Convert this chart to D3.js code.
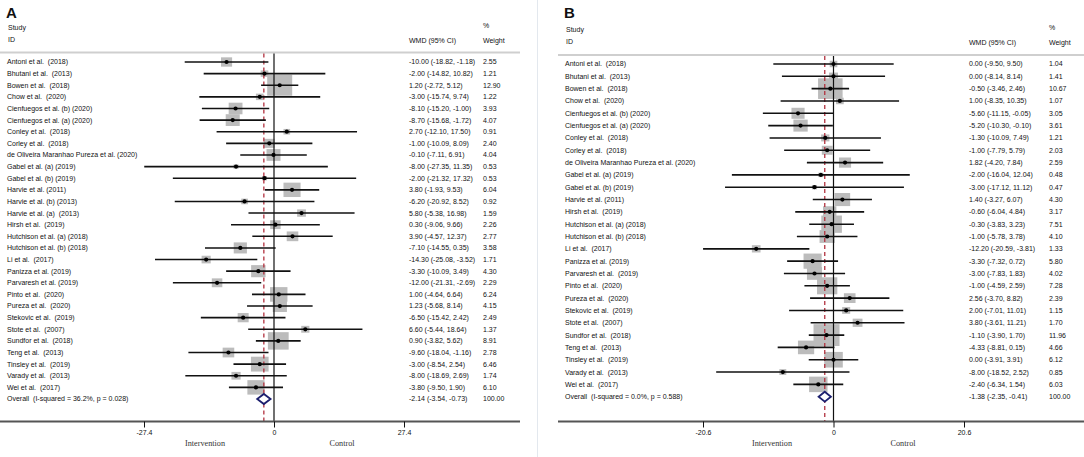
<!DOCTYPE html>
<html>
<head>
<meta charset="utf-8">
<script src="https://cdn.jsdelivr.net/npm/d3@7"></script>
<style>
  body { margin: 0; background: #fff; }
  svg { display: block; }
  text { font-family: "Liberation Sans", Arial, sans-serif; fill: #111; white-space: pre; }
  .serif { font-family: "Liberation Serif", "Times New Roman", serif; fill: #333; }
</style>
</head>
<body>
<svg id="chart" width="1084" height="457"></svg>
<script>
// ---- panel A data (WMD, 95% CI, weight %) ----
var studiesA = ["Antoni et al.  (2018)", "Bhutani et al.  (2013)", "Bowen et al.  (2018)", "Chow et al.  (2020)",
  "Cienfuegos et al. (b) (2020)", "Cienfuegos et al. (a) (2020)", "Conley et al.  (2018)", "Corley et al.  (2018)",
  "de Oliveira Maranhao Pureza et al. (2020)", "Gabel et al. (a) (2019)", "Gabel et al. (b) (2019)",
  "Harvie et al. (2011)", "Harvie et al. (b) (2013)", "Harvie et al. (a)  (2013)", "Hirsh et al.  (2019)",
  "Hutchison et al. (a) (2018)", "Hutchison et al. (b) (2018)", "Li et al.  (2017)", "Panizza et al. (2019)",
  "Parvaresh et al. (2019)", "Pinto et al.  (2020)", "Pureza et al.  (2020)", "Stekovic et al.  (2019)",
  "Stote et al.  (2007)", "Sundfor et al.  (2018)", "Teng et al.  (2013)", "Tinsley et al.  (2019)",
  "Varady et al.  (2013)", "Wei et al.  (2017)"];
var wmdA = [-10.00, -2.00, 1.20, -3.00, -8.10, -8.70, 2.70, -1.00, -0.10, -8.00, -2.00, 3.80, -6.20, 5.80, 0.30,
  3.90, -7.10, -14.30, -3.30, -12.00, 1.00, 1.23, -6.50, 6.60, 0.90, -9.60, -3.00, -8.00, -3.80];
var lowA = [-18.82, -14.82, -2.72, -15.74, -15.20, -15.68, -12.10, -10.09, -7.11, -27.35, -21.32, -1.93, -20.92,
  -5.38, -9.06, -4.57, -14.55, -25.08, -10.09, -21.31, -4.64, -5.68, -15.42, -5.44, -3.82, -18.04, -8.54, -18.69, -9.50];
var highA = [-1.18, 10.82, 5.12, 9.74, -1.00, -1.72, 17.50, 8.09, 6.91, 11.35, 17.32, 9.53, 8.52, 16.98, 9.66,
  12.37, 0.35, -3.52, 3.49, -2.69, 6.64, 8.14, 2.42, 18.64, 5.62, -1.16, 2.54, 2.69, 1.90];
var weightA = [2.55, 1.21, 12.90, 1.22, 3.93, 4.07, 0.91, 2.40, 4.04, 0.53, 0.53, 6.04, 0.92, 1.59, 2.26,
  2.77, 3.58, 1.71, 4.30, 2.29, 6.24, 4.15, 2.49, 1.37, 8.91, 2.78, 6.46, 1.74, 6.10];
var overallA = [-2.14, -3.54, -0.73];
var overallLabelA = "Overall  (I-squared = 36.2%, p = 0.028)";
var ticksA = [-27.4, 0, 27.4];

// ---- panel B data ----
var studiesB = ["Antoni et al.  (2018)", "Bhutani et al.  (2013)", "Bowen et al.  (2018)", "Chow et al.  (2020)",
  "Cienfuegos et al. (b) (2020)", "Cienfuegos et al. (a) (2020)", "Conley et al.  (2018)", "Corley et al.  (2018)",
  "de Oliveira Maranhao Pureza et al. (2020)", "Gabel et al. (a) (2019)", "Gabel et al. (b) (2019)",
  "Harvie et al. (2011)", "Hirsh et al.  (2019)", "Hutchison et al. (a) (2018)", "Hutchison et al. (b) (2018)",
  "Li et al.  (2017)", "Panizza et al. (2019)", "Parvaresh et al.  (2019)", "Pinto et al.  (2020)",
  "Pureza et al.  (2020)", "Stekovic et al.  (2019)", "Stote et al.  (2007)", "Sundfor et al.  (2018)",
  "Teng et al.  (2013)", "Tinsley et al.  (2019)", "Varady et al.  (2013)", "Wei et al.  (2017)"];
var wmdB = [0.00, 0.00, -0.50, 1.00, -5.60, -5.20, -1.30, -1.00, 1.82, -2.00, -3.00, 1.40, -0.60, -0.30, -1.00,
  -12.20, -3.30, -3.00, -1.00, 2.56, 2.00, 3.80, -1.10, -4.33, 0.00, -8.00, -2.40];
var lowB = [-9.50, -8.14, -3.46, -8.35, -11.15, -10.30, -10.09, -7.79, -4.20, -16.04, -17.12, -3.27, -6.04, -3.83,
  -5.78, -20.59, -7.32, -7.83, -4.59, -3.70, -7.01, -3.61, -3.90, -8.81, -3.91, -18.52, -6.34];
var highB = [9.50, 8.14, 2.46, 10.35, -0.05, -0.10, 7.49, 5.79, 7.84, 12.04, 11.12, 6.07, 4.84, 3.23, 3.78,
  -3.81, 0.72, 1.83, 2.59, 8.82, 11.01, 11.21, 1.70, 0.15, 3.91, 2.52, 1.54];
var weightB = [1.04, 1.41, 10.67, 1.07, 3.05, 3.61, 1.21, 2.03, 2.59, 0.48, 0.47, 4.30, 3.17, 7.51, 4.10,
  1.33, 5.80, 4.02, 7.28, 2.39, 1.15, 1.70, 11.96, 4.66, 6.12, 0.85, 6.03];
var overallB = [-1.38, -2.35, -0.41];
var overallLabelB = "Overall  (I-squared = 0.0%, p = 0.588)";
var ticksB = [-20.6, 0, 20.6];

var svg = d3.select("#chart");

// faint divider between the two panels
svg.append("line")
    .attr("x1", 537.5).attr("x2", 537.5)
    .attr("y1", 0).attr("y2", 457)
    .style("stroke", "#e3e8ee");

drawPanel({
  letter: "A", left: 7, lineLeft: 0, lineRight: 520, sepY: 52.5,
  rowTop: 62, rowBottom: 399, wmdX: 409, weightX: 483,
  tickRange: [144, 404], boxMax: 25, axisY: 421.5,
  introX: 205, ctrlX: 342,
  studies: studiesA, wmd: wmdA, low: lowA, high: highA, weight: weightA,
  overall: overallA, overallLabel: overallLabelA, ticks: ticksA
});

drawPanel({
  letter: "B", left: 565, lineLeft: 558, lineRight: 1084, sepY: 55,
  rowTop: 64, rowBottom: 396.7, wmdX: 969, weightX: 1049,
  tickRange: [703, 964], boxMax: 26, axisY: 421.5,
  introX: 772, ctrlX: 903,
  studies: studiesB, wmd: wmdB, low: lowB, high: highB, weight: weightB,
  overall: overallB, overallLabel: overallLabelB, ticks: ticksB
});

// plain hyphen for negatives, like the stata output
function fmt(v) { return d3.format(".2f")(v).replace("\u2212", "-"); }

function drawPanel(p) {
  var g = svg.append("g");
  var n = p.studies.length;

  var data = [];
  for (var i = 0; i < n; i++) {
    data.push({ name: p.studies[i], est: p.wmd[i], lo: p.low[i], hi: p.high[i], w: p.weight[i], row: i });
  }

  var xScale = d3.scaleLinear()
      .domain([p.ticks[0], p.ticks[2]])
      .range(p.tickRange);
  var yScale = d3.scaleLinear()
      .domain([0, n])
      .range([p.rowTop, p.rowBottom]);
  var boxScale = d3.scaleSqrt()
      .domain([0, d3.max(p.weight)])
      .range([0, p.boxMax]);

  // headers
  g.append("text").attr("x", p.left - 1).attr("y", 18)
      .style("font-size", "15px").style("font-weight", "bold").text(p.letter);
  g.append("text").attr("x", p.left + 1).attr("y", p.sepY - 25)
      .attr("dy", "0.35em").style("font-size", "7px").text("Study");
  g.append("text").attr("x", p.left + 1).attr("y", p.sepY - 13)
      .attr("dy", "0.35em").style("font-size", "7px").text("ID");
  g.append("text").attr("x", p.wmdX).attr("y", p.sepY - 12)
      .attr("dy", "0.35em").style("font-size", "7px").text("WMD (95% CI)");
  g.append("text").attr("x", p.weightX).attr("y", p.sepY - 27)
      .attr("dy", "0.35em").style("font-size", "7px").text("%");
  g.append("text").attr("x", p.weightX).attr("y", p.sepY - 12)
      .attr("dy", "0.35em").style("font-size", "7px").text("Weight");

  g.append("line")
      .attr("x1", p.lineLeft).attr("x2", p.lineRight)
      .attr("y1", p.sepY).attr("y2", p.sepY)
      .style("stroke", "#cfcfcf").style("stroke-width", 2);

  // study labels and value columns
  var rows = g.selectAll(".row")
      .data(data)
      .enter().append("g")
      .attr("class", "row");

  rows.append("text")
      .attr("x", p.left).attr("y", function(d) { return yScale(d.row); })
      .attr("dy", "0.35em").style("font-size", "7px")
      .text(function(d) { return d.name; });
  rows.append("text")
      .attr("x", p.wmdX).attr("y", function(d) { return yScale(d.row); })
      .attr("dy", "0.35em").style("font-size", "7px")
      .text(function(d) { return fmt(d.est) + " (" + fmt(d.lo) + ", " + fmt(d.hi) + ")"; });
  rows.append("text")
      .attr("x", p.weightX).attr("y", function(d) { return yScale(d.row); })
      .attr("dy", "0.35em").style("font-size", "7px")
      .text(function(d) { return fmt(d.w); });

  var oy = yScale(n);
  g.append("text").attr("x", p.left).attr("y", oy).attr("dy", "0.35em")
      .style("font-size", "7px").text(p.overallLabel);
  g.append("text").attr("x", p.wmdX).attr("y", oy).attr("dy", "0.35em")
      .style("font-size", "7px")
      .text(fmt(p.overall[0]) + " (" + fmt(p.overall[1]) + ", " + fmt(p.overall[2]) + ")");
  g.append("text").attr("x", p.weightX).attr("y", oy).attr("dy", "0.35em")
      .style("font-size", "7px").text("100.00");

  // weight boxes
  g.selectAll(".box")
      .data(data)
      .enter().append("rect")
      .attr("class", "box")
      .attr("x", function(d) { return xScale(d.est) - boxScale(d.w) / 2; })
      .attr("y", function(d) { return yScale(d.row) - boxScale(d.w) * 0.42; })
      .attr("width", function(d) { return boxScale(d.w); })
      .attr("height", function(d) { return boxScale(d.w) * 0.84; })
      .style("fill", "#bcbcbc");

  // no-effect line
  g.append("line")
      .attr("x1", xScale(0)).attr("x2", xScale(0))
      .attr("y1", p.sepY + 1).attr("y2", p.axisY)
      .style("stroke", "#111").style("stroke-width", 1.2);

  // pooled estimate line
  g.append("line")
      .attr("x1", xScale(p.overall[0])).attr("x2", xScale(p.overall[0]))
      .attr("y1", p.sepY + 1).attr("y2", p.axisY)
      .style("stroke", "#b2313f").style("stroke-width", 1.3)
      .style("stroke-dasharray", "4,3");

  // confidence intervals
  g.selectAll(".ci")
      .data(data)
      .enter().append("line")
      .attr("class", "ci")
      .attr("x1", function(d) { return xScale(d.lo); })
      .attr("x2", function(d) { return xScale(d.hi); })
      .attr("y1", function(d) { return yScale(d.row); })
      .attr("y2", function(d) { return yScale(d.row); })
      .style("stroke", "#111").style("stroke-width", 1.6);

  g.selectAll(".pt")
      .data(data)
      .enter().append("circle")
      .attr("class", "pt")
      .attr("cx", function(d) { return xScale(d.est); })
      .attr("cy", function(d) { return yScale(d.row); })
      .attr("r", 2.1)
      .style("fill", "#000");

  // overall diamond
  var x0 = xScale(p.overall[1]), xm = xScale(p.overall[0]), x1 = xScale(p.overall[2]);
  g.append("path")
      .attr("d", "M" + x0 + "," + oy + "L" + xm + "," + (oy - 5) + "L" + x1 + "," + oy +
                 "L" + xm + "," + (oy + 5) + "Z")
      .style("fill", "#fff").style("stroke", "#1c1f6e").style("stroke-width", 1.8);

  // x axis
  g.append("line")
      .attr("x1", p.lineLeft).attr("x2", p.lineRight)
      .attr("y1", p.axisY).attr("y2", p.axisY)
      .style("stroke", "#555").style("stroke-width", 2);

  var axis = d3.axisBottom(xScale)
      .tickValues(p.ticks)
      .tickSize(6)
      .tickFormat(function(d) { return d === 0 ? "0" : d3.format(".1f")(d).replace("\u2212", "-"); });
  var ax = g.append("g")
      .attr("transform", "translate(0," + p.axisY + ")")
      .call(axis);
  ax.select(".domain").remove();
  ax.selectAll(".tick line").style("stroke", "#111");
  ax.selectAll(".tick text")
      .attr("y", 9)
      .style("font-family", "Liberation Sans, Arial, sans-serif")
      .style("font-size", "7px").style("fill", "#111");

  g.append("text").attr("class", "serif")
      .attr("x", p.introX).attr("y", 443).attr("dy", "0.35em")
      .attr("text-anchor", "middle").style("font-size", "8.2px").text("Intervention");
  g.append("text").attr("class", "serif")
      .attr("x", p.ctrlX).attr("y", 443).attr("dy", "0.35em")
      .attr("text-anchor", "middle").style("font-size", "8.2px").text("Control");
}
</script>
</body>
</html>
